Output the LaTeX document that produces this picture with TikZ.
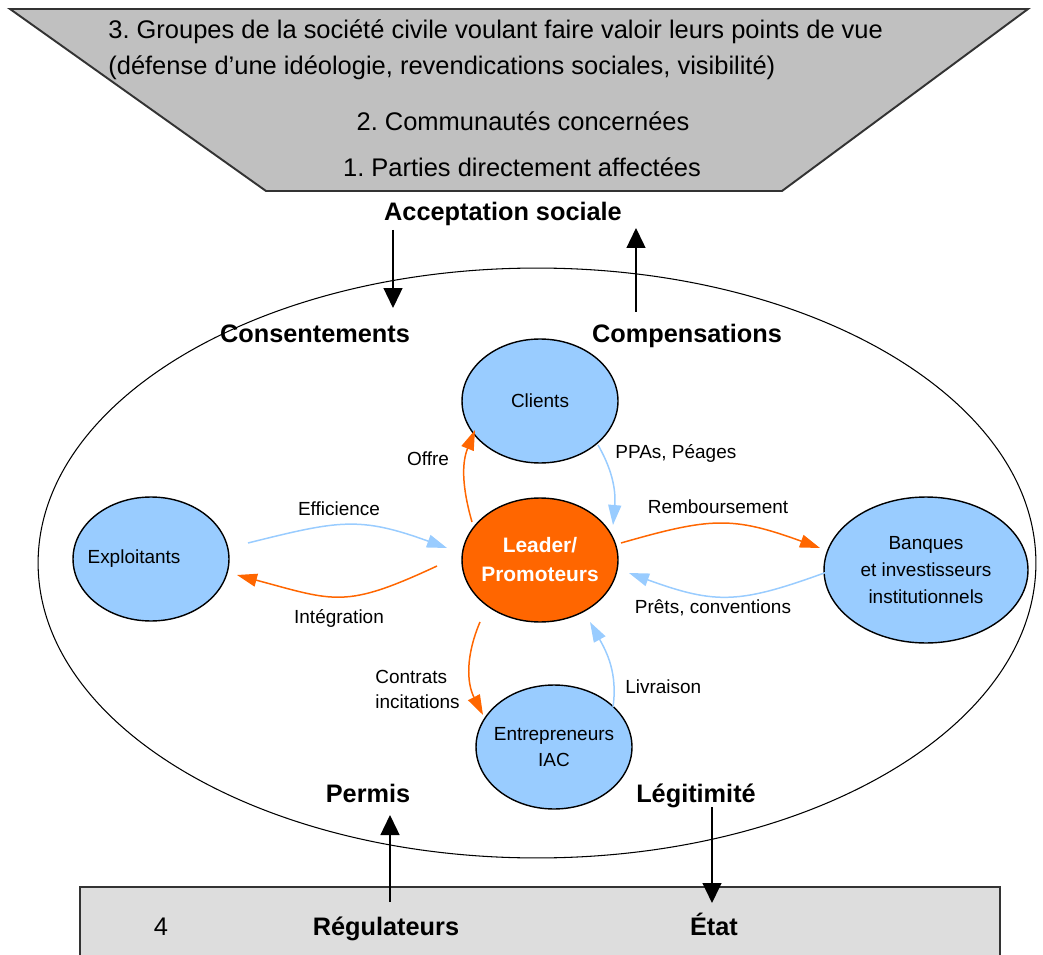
\documentclass[tikz,border=0pt]{standalone}
\usepackage{fontspec}
\setmainfont{Liberation Sans}
\usepackage{xcolor}
\usetikzlibrary{shapes.geometric, arrows.meta, positioning, calc}
\definecolor{actorblue}{HTML}{99CCFF}
\definecolor{leadorange}{HTML}{FF6600}
\definecolor{funnelgray}{HTML}{C0C0C0}
\definecolor{statebg}{HTML}{DDDDDD}
\definecolor{edgegray}{HTML}{333333}
\frenchspacing
\tikzset{
  % Actor ellipses
  actor/.style={
    ellipse, draw=black, line width=0.8pt, fill=#1,
    minimum width=3.12cm, minimum height=2.48cm, inner sep=-0.15cm,
    align=center, font=\fontsize{10.8}{15.2}\selectfont,
  },
  actor/.default={actorblue},
  % Texts
  bigtext/.style={font=\fontsize{14.5}{20.5}\selectfont, inner sep=0pt, anchor=base},
  bigbold/.style={bigtext, font=\fontsize{14.4}{20.5}\selectfont\bfseries},
  flowlabel/.style={font=\fontsize{10.8}{14.2}\selectfont, inner sep=0pt, anchor=base},
  % Arrows
  flowarrow/.style={-{Triangle[length=0.4cm, width=0.26cm]}, line width=0.85pt, draw=#1},
  flowarrow/.default={actorblue},
  bigarrow/.style={-{Triangle[length=0.4cm, width=0.38cm]}, line width=0.8pt, draw=black},
}
\begin{document}
\begin{tikzpicture}[x=0.02cm, y=0.02cm]
  \useasboundingbox (0,0) rectangle (1043,-955);
  \clip (0,0) rectangle (1043,-955);

  % Funnel of the social actors
  \draw[edgegray, line width=1.1pt, fill=funnelgray]
    (10,-9) -- (1028,-9) -- (782,-191) -- (266,-191) -- cycle;
  \node[bigtext, anchor=base west, align=left] (civil) at (108,-75)
    {3. Groupes de la société civile voulant faire valoir leurs points de vue\\(défense d’une idéologie, revendications sociales, visibilité)};
  \node[bigtext] (commun) at (523,-131) {2. Communautés concernées};
  \node[bigtext] (parties) at (522,-177) {1. Parties directement affectées};
  \node[bigbold] (accept) at (503,-221) {Acceptation sociale};

  % Project field
  \node[ellipse, draw, line width=0.6pt, minimum width=19.96cm, minimum height=11.8cm] (field) at (537,-563) {};
  \node[bigbold] (consent) at (315,-343) {Consentements};
  \node[bigbold] (compens) at (687,-343) {Compensations};
  \node[bigbold] (permis) at (368,-802) {Permis};
  \node[bigbold] (legit) at (696,-802) {Légitimité};

  % Actors
  \node[actor] (clients) at (540,-401) {Clients};
  \node[actor=leadorange, text=white, font=\fontsize{11.9}{16.5}\selectfont\bfseries] (leader) at (540,-560) {Leader/\\Promoteurs};
  \node[actor, label={[font=\fontsize{10.8}{15.2}\selectfont, xshift=-0.34cm]center:Exploitants}] (expl) at (151,-559) {};
  \node[actor, minimum width=4.08cm, minimum height=2.92cm] (banks) at (926,-570) {Banques\\et investisseurs\\institutionnels};
  \node[actor] (entr) at (554,-747) {Entrepreneurs\\IAC};

  % Regulatory layer
  \draw[edgegray, line width=1.3pt, fill=statebg] (80,-887) rectangle (1000,-975);
  \node[bigtext] (layer4) at (161,-935) {4};
  \node[bigbold] (regul) at (386,-935) {Régulateurs};
  \node[bigbold] (etat) at (714,-935) {État};

  % Social acceptance and regulation
  \draw[bigarrow] ($(accept.base)+(-110,-9)$) -- ($(consent.base)+(78,35)$);
  \draw[bigarrow] ($(compens.base)+(-51,31)$) -- ($(accept.base)+(133,-7)$);
  \draw[bigarrow] ($(regul.base)+(4,33)$) -- ($(permis.base)+(22,-13)$);
  \draw[bigarrow] ($(legit.base)+(16,-5)$) -- ($(etat.base)+(-2,32)$);

  % Flows between actors
  \draw[flowarrow=leadorange] ($(leader)+(-68,38)$) to[out=106, in=248] ($(clients)+(-65,-29)$);
  \draw[flowarrow] ($(clients)+(58,-44)$) to[out=-60, in=85] ($(leader)+(73,35)$);
  \draw[flowarrow] ($(expl)+(97,16)$) to[out=14, in=160, looseness=1.2] ($(leader)+(-93,12)$);
  \draw[flowarrow=leadorange] ($(leader)+(-103,-6)$) to[out=205, in=-15, looseness=1.3] ($(expl)+(86,-16)$);
  \draw[flowarrow=leadorange] ($(leader)+(81,17)$) to[out=16, in=160, looseness=1.2] ($(banks)+(-106,22)$);
  \draw[flowarrow] ($(banks)+(-99,-2)$) to[out=200, in=-20, looseness=1.2] ($(leader)+(89,-13)$);
  \draw[flowarrow=leadorange] ($(leader)+(-60,-62)$) to[out=247, in=117] ($(entr)+(-71,32)$);
  \draw[flowarrow] ($(entr)+(59,40)$) to[out=82, in=-61] ($(leader)+(50,-62)$);

  % Flow labels
  \node[flowlabel] (offre) at (428,-465) {Offre};
  \node[flowlabel, anchor=base west] (ppa) at (615,-459) {PPAs, Péages};
  \node[flowlabel] (effic) at (339,-515) {Efficience};
  \node[flowlabel] (rembours) at (718,-513) {Remboursement};
  \node[flowlabel] (integr) at (339,-623) {Intégration};
  \node[flowlabel] (prets) at (713,-613) {Prêts, conventions};
  \node[flowlabel, anchor=base west, align=left] (contrats) at (375,-708) {Contrats\\incitations};
  \node[flowlabel, anchor=base west] (livr) at (625,-693) {Livraison};

\end{tikzpicture}
\end{document}
